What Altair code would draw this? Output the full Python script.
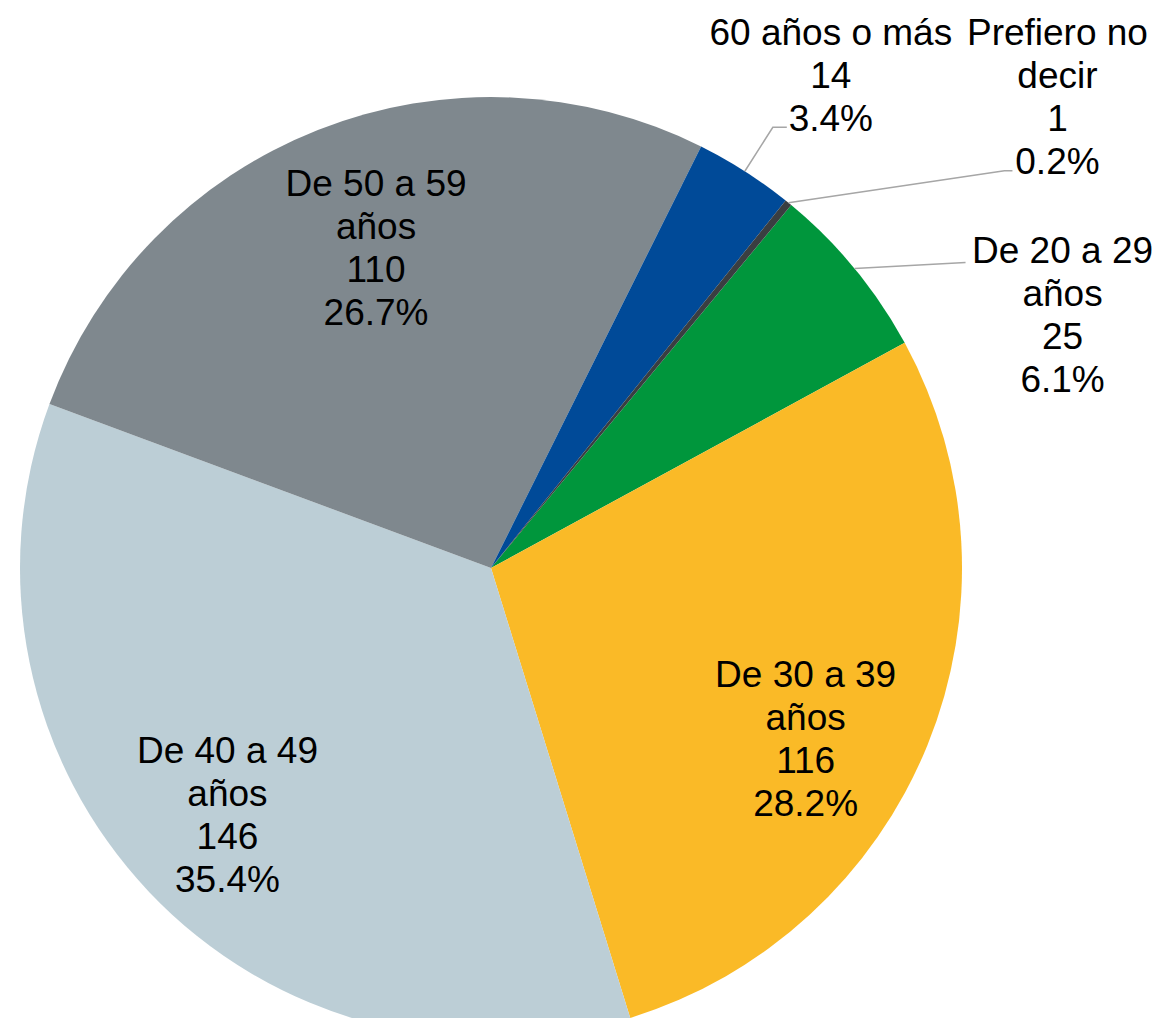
import math
import altair as alt
import pandas as pd

# ---- data ----
categories = ["De 20 a 29 años", "De 30 a 39 años", "De 40 a 49 años",
              "De 50 a 59 años", "60 años o más", "Prefiero no decir"]
counts = [25, 116, 146, 110, 14, 1]
percents = ["6.1%", "28.2%", "35.4%", "26.7%", "3.4%", "0.2%"]
label_heads = ["De 20 a 29\naños", "De 30 a 39\naños", "De 40 a 49\naños",
               "De 50 a 59\naños", "60 años o más", "Prefiero no\ndecir"]
colors = ["#00963C", "#FABA27", "#BCCED6", "#7F888E", "#004A98", "#3A3E41"]

# ---- layout ----
W, H = 966, 900
PAD_TOP = 110
R = 471
START = math.radians(39.6)
FONT = "Liberation Sans"
FS = 37
LH = 43
TEXT_SHIFT = 2
# per-label: radius, dx, dy (dy to the centre of the text block)
label_layout = {
    "De 20 a 29 años": (471, 208, 46),
    "De 30 a 39 años": (358, -17, 36),
    "De 40 a 49 años": (360, -2, -1),
    "De 50 a 59 años": (340, 10, -4),
    "60 años o más": (471, 86, -96),
    "Prefiero no decir": (471, 269, -106),
}
# leader lines: (elbow offset, end offset) relative to the label block centre
leader_layout = {
    "60 años o más": ((-58, 52), (-44, 52)),
    "Prefiero no decir": ((-53, 74), (-45, 74)),
    "De 20 a 29 años": ((-97, -52), (-97, -52)),
}

total = sum(counts)
ends = []
acc = 0
for c in counts:
    acc += c
    ends.append(acc)
starts = [e - c for e, c in zip(ends, counts)]
mids = [(s + e) / 2 for s, e in zip(starts, ends)]
labels = [f"{h}\n{v}\n{p}" for h, v, p in zip(label_heads, counts, percents)]

df = pd.DataFrame({
    "cat": categories,
    "value": counts,
    "start": starts,
    "end": ends,
    "mid": mids,
    "label": labels,
})

theta_scale = alt.Scale(domain=[0, total], range=[START, START + 2 * math.pi])


def ang(v):
    return START + v / total * 2 * math.pi


CX, CY = W / 2, H / 2
rows = []
for cat, (elb, endp) in leader_layout.items():
    i = categories.index(cat)
    a = ang(mids[i])
    r, dx, dy = label_layout[cat]
    ax = CX + r * math.sin(a) + dx
    ay = CY - r * math.cos(a) + dy
    pts = [(CX + R * math.sin(a), CY - R * math.cos(a)),
           (ax + elb[0], ay + elb[1]),
           (ax + endp[0], ay + endp[1])]
    for k, (px, py) in enumerate(pts):
        rows.append({"cat": cat, "i": k, "px": px, "py": py})
lines_df = pd.DataFrame(rows)

arcs = alt.Chart(df).mark_arc(radius=R).encode(
    theta=alt.Theta("start:Q", scale=theta_scale, stack=False),
    theta2="end:Q",
    color=alt.Color("cat:N", scale=alt.Scale(domain=categories, range=colors), legend=None),
)

leaders = alt.Chart(lines_df).mark_line(color="#A6A6A6", strokeWidth=1.5).encode(
    x=alt.X("px:Q", scale=None, axis=None),
    y=alt.Y("py:Q", scale=None, axis=None),
    detail="cat:N",
    order="i:Q",
)

texts = []
for cat, lab in zip(categories, labels):
    r, dx, dy = label_layout[cat]
    n_lines = lab.count("\n") + 1
    texts.append(
        alt.Chart(df).transform_filter(alt.datum.cat == cat).mark_text(
            radius=r, dx=dx, dy=dy + TEXT_SHIFT - (n_lines - 1) / 2 * LH,
            font=FONT, fontSize=FS, lineHeight=LH,
            color="#000000", lineBreak="\n", align="center", baseline="middle",
        ).encode(
            theta=alt.Theta("mid:Q", scale=theta_scale, stack=False),
            text="label:N",
        )
    )

chart = alt.layer(arcs, leaders, *texts).properties(
    width=W, height=H,
    autosize=alt.AutoSizeParams(type="none"),
    padding={"left": 0, "top": PAD_TOP, "right": 180, "bottom": 0},
).configure_view(strokeWidth=0)

chart.save("out.html", embed_options={"renderer": "svg", "actions": False})
